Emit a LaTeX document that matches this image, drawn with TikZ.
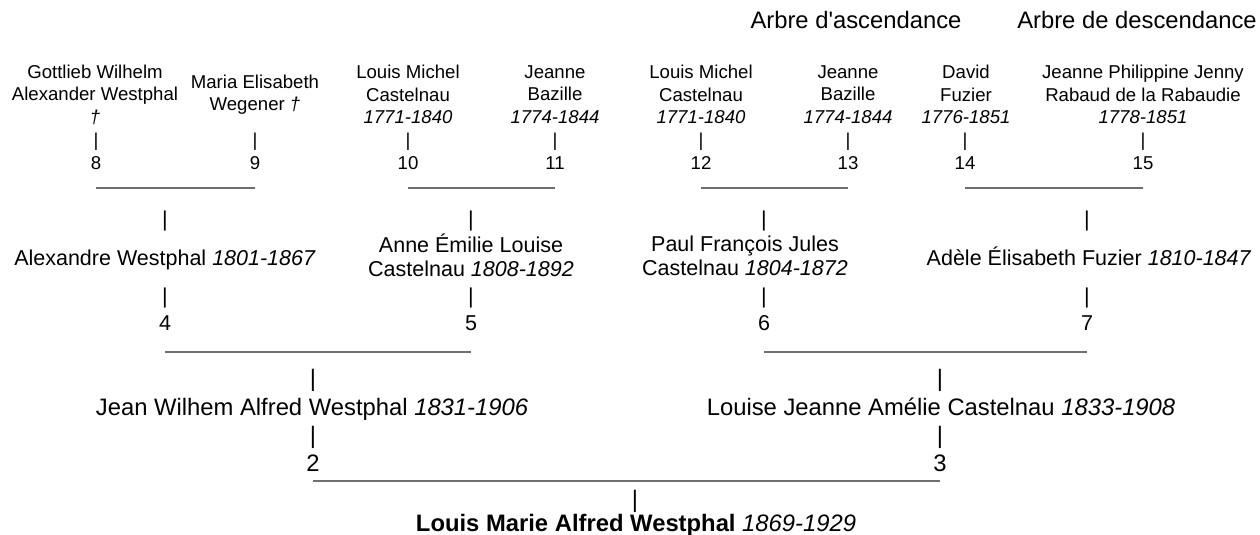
\documentclass[tikz,border=0pt]{standalone}
\usepackage{fontspec}
\setmainfont{Liberation Sans}[Ligatures=TeXOff]
\definecolor{rulegray}{RGB}{112,112,112}
\begin{document}
\begin{tikzpicture}[x=1pt,y=-1pt,
  every node/.style={inner sep=0pt,outer sep=0pt,text=black},
  fsd/.style={font=\fontsize{18.6}{22.5}\selectfont},
  fsc/.style={font=\fontsize{21.5}{24}\selectfont},
  fsb/.style={font=\fontsize{23.8}{27}\selectfont},
  name4/.style={fsd,align=center},
  name3/.style={fsc,align=center},
  name2/.style={fsb,align=center},
  barmark4/.style={fsd},
  barmark3/.style={fsc},
  barmark2/.style={fsb},
  num4/.style={fsd},
  num3/.style={fsc},
  num2/.style={fsb},
  hdr/.style={fsb},
  rulel/.style={draw=rulegray,line width=2pt}]
\useasboundingbox (0,0) rectangle (1260,535);

% headers
\node[hdr] (h1) at (856,20) {Arbre d'ascendance};
\node[hdr] (h2) at (1137,20) {Arbre de descendance};

% generation 4
\node[name4] (p8) at (95,94.5) {Gottlieb Wilhelm\\Alexander Westphal\\\textit{†}};
\node[name4] (p9) at (255,94.5) {Maria Elisabeth\\Wegener \textit{†}};
\node[name4] (p10) at (408,94.5) {Louis Michel\\Castelnau\\\textit{1771-1840}};
\node[name4] (p11) at (555,94.5) {Jeanne\\Bazille\\\textit{1774-1844}};
\node[name4] (p12) at (701,94.5) {Louis Michel\\Castelnau\\\textit{1771-1840}};
\node[name4] (p13) at (848,94.5) {Jeanne\\Bazille\\\textit{1774-1844}};
\node[name4] (p14) at (966,94.5) {David\\Fuzier\\\textit{1776-1851}};
\node[name4] (p15) at (1143,94.5) {Jeanne Philippine Jenny\\Rabaud de la Rabaudie\\\textit{1778-1851}};

\foreach \k/\xx in {8/96,9/255,10/408,11/555,12/701,13/848,14/965,15/1143}{
  \node[barmark4] (b\k) at (\xx,142) {|};
  \node[num4] (n\k) at (\xx,163.5) {\k};
}
\coordinate (r4) at (0,188);
\draw[rulel] (n8 |- r4) -- (n9 |- r4);
\draw[rulel] (n10 |- r4) -- (n11 |- r4);
\draw[rulel] (n12 |- r4) -- (n13 |- r4);
\draw[rulel] (n14 |- r4) -- (n15 |- r4);

% generation 3
\node[name3] (p4) at (165,260) {Alexandre Westphal \textit{1801-1867}};
\node[name3] (p5) at (471,255) {Anne Émilie Louise\\Castelnau \textit{1808-1892}};
\node[name3] (p6) at (745,256) {Paul François Jules\\Castelnau \textit{1804-1872}};
\node[name3] (p7) at (1089,256.5) {Adèle Élisabeth Fuzier \textit{1810-1847}};

\foreach \k/\xx in {4/165,5/471,6/764,7/1087}{
  \node[barmark3] (ua\k) at (\xx,221) {|};
  \node[barmark3] (b\k) at (\xx,298) {|};
  \node[num3] (n\k) at (\xx,323) {\k};
}
\coordinate (r3) at (0,352);
\draw[rulel] (n4 |- r3) -- (n5 |- r3);
\draw[rulel] (n6 |- r3) -- (n7 |- r3);

% generation 2
\node[name2] (p2) at (312,409) {Jean Wilhem Alfred Westphal \textit{1831-1906}};
\node[name2] (p3) at (941,407) {Louise Jeanne Amélie Castelnau \textit{1833-1908}};
\foreach \k/\xx in {2/313,3/940}{
  \node[barmark2] (ua\k) at (\xx,380) {|};
  \node[barmark2] (b\k) at (\xx,437) {|};
  \node[num2] (n\k) at (\xx,463) {\k};
}
\coordinate (r2) at (0,481);
\draw[rulel] (n2 |- r2) -- (n3 |- r2);

% root
\node[barmark2] (ua1) at (635,501) {|};
\node[name2] (p1) at (636,525.5) {\textbf{Louis Marie Alfred Westphal} \textit{1869-1929}};
\end{tikzpicture}
\end{document}
